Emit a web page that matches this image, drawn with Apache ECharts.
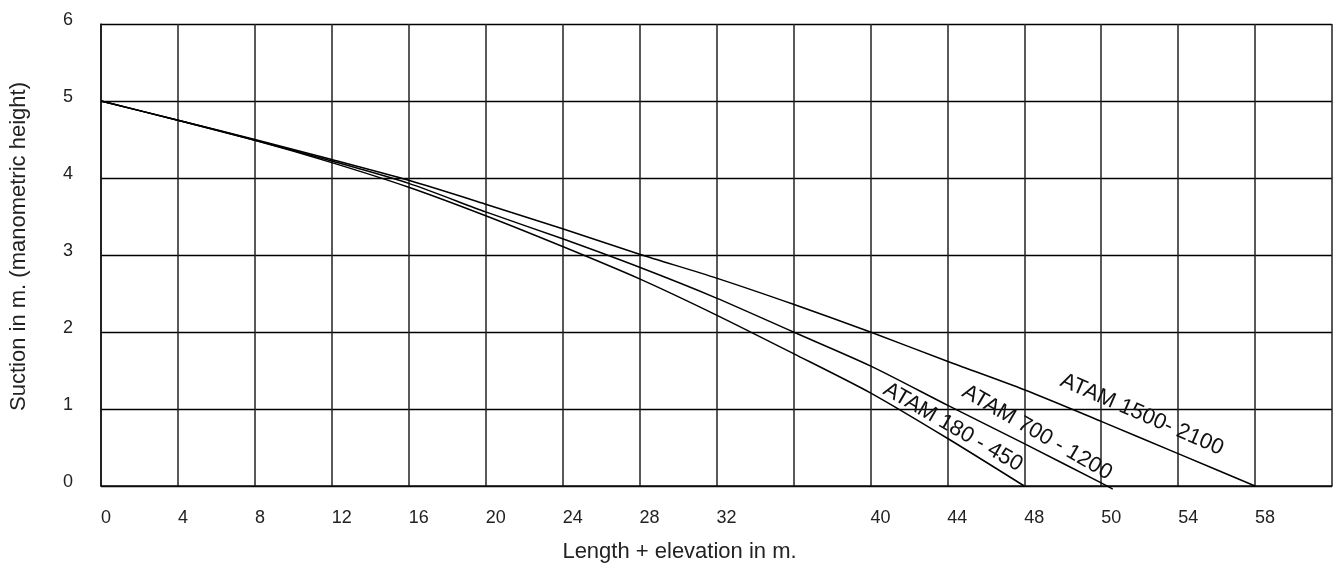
<!DOCTYPE html>
<html><head><meta charset="utf-8">
<script src="https://cdn.jsdelivr.net/npm/echarts@6/dist/echarts.min.js"></script>
<style>html,body{margin:0;padding:0;background:#fff}#c{width:1335px;height:569px}</style>
</head><body><div id="c"></div>
<script>
// Tick labels (x axis positions are evenly spaced, 4 units per column)
const xTickLabels = ['0','4','8','12','16','20','24','28','32','','40','44','48','50','54','58',''];
const yTickLabels = ['0','1','2','3','4','5','6'];
const seriesNames = ['ATAM 180 - 450', 'ATAM 700 - 1200', 'ATAM 1500- 2100'];

// Curves: [axis position, suction in m]
const atam180 = [[0,5],[4,4.75],[8,4.49],[12,4.2],[16,3.88],[20,3.51],[24,3.11],[28,2.69],[32,2.22],[36,1.72],[40,1.21],[44,0.62],[48,0]];
const atam700 = [[0,5],[4,4.75],[8,4.49],[12,4.22],[16,3.93],[20,3.56],[24,3.21],[28,2.84],[32,2.44],[36,2.0],[40,1.56],[44,1.05],[48,0.55],[52,0.04],[52.6,-0.04]];
const atam1500 = [[0,5],[4,4.75],[8,4.5],[12,4.24],[16,3.97],[20,3.66],[24,3.34],[28,3.01],[32,2.70],[36,2.36],[40,2.0],[44,1.62],[48,1.25],[52,0.84],[56,0.42],[60,0]];

// Label placement (layout, data coordinates of text start and angle)
const labelLayout = [
  {at: [40.47, 1.15], angle: 30},
  {at: [44.57, 1.12], angle: 30},
  {at: [49.71, 1.25], angle: 23.5}
];

const FONT = '"Liberation Sans", Arial, Helvetica, sans-serif';
const chart = echarts.init(document.getElementById('c'), null, {renderer: 'canvas'});
const lineStyle = {color: '#000', width: 1.5};
const mk = (name, data, clip) => ({
  name, type: 'line', data, showSymbol: false, smooth: 0.25, clip: clip,
  lineStyle, emphasis: {disabled: true}, animation: false
});

chart.setOption({
  animation: false,
  backgroundColor: '#fff',
  grid: {left: 100, top: 24, width: 1232, height: 462, containLabel: false},
  xAxis: {
    type: 'value', min: 0, max: 64, interval: 4,
    name: 'Length + elevation in m.', nameLocation: 'middle', nameGap: 55,
    nameTextStyle: {fontFamily: FONT, fontSize: 22, color: '#222', padding: [0, 74, 0, 0]},
    axisLine: {show: true, lineStyle: {color: '#111', width: 1.5}},
    axisTick: {show: false},
    splitLine: {show: true, lineStyle: {color: '#222', width: 1.5}},
    axisLabel: {
      formatter: v => xTickLabels[Math.round(v / 4)] || '',
      align: 'left', margin: 23, fontFamily: FONT, fontSize: 18, color: '#222'
    }
  },
  yAxis: {
    type: 'value', min: 0, max: 6, interval: 1,
    name: 'Suction in m. (manometric height)', nameLocation: 'middle', nameGap: 71,
    nameTextStyle: {fontFamily: FONT, fontSize: 22, color: '#222', padding: [0, 0, 0, 17]},
    axisLine: {show: true, lineStyle: {color: '#111', width: 1.5}},
    axisTick: {show: false},
    splitLine: {show: true, lineStyle: {color: '#000', width: 1.3}},
    axisLabel: {
      formatter: v => yTickLabels[Math.round(v)] || '',
      margin: 28, fontFamily: FONT, fontSize: 18, color: '#222',
      verticalAlign: 'bottom', lineHeight: 7
    }
  },
  series: [mk(seriesNames[0], atam180, true), mk(seriesNames[1], atam700, false), mk(seriesNames[2], atam1500, true)]
});

const graphics = labelLayout.map((l, i) => {
  const p = chart.convertToPixel({gridIndex: 0}, l.at);
  return {
    type: 'text', x: p[0], y: p[1], rotation: -l.angle * Math.PI / 180,
    silent: true,
    style: {text: seriesNames[i], font: '22px ' + FONT, fill: '#111', align: 'left', verticalAlign: 'bottom'}
  };
});
chart.setOption({graphic: graphics});
</script></body></html>
